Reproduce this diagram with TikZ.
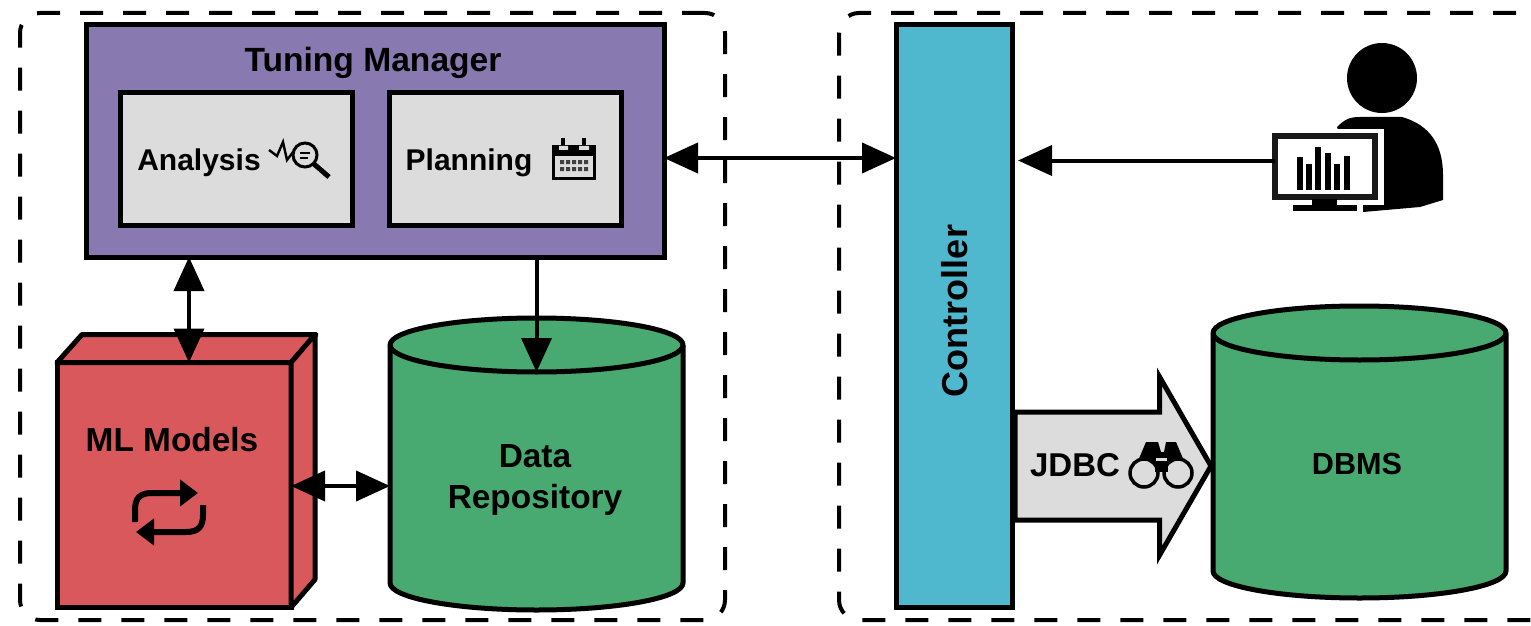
\documentclass[tikz,border=0pt]{standalone}
\usepackage{fontspec}
\setmainfont{Liberation Sans}
\usetikzlibrary{arrows.meta,shapes.arrows,calc}

\definecolor{mgrpurple}{HTML}{8879B0}
\definecolor{panelgrey}{HTML}{DCDCDC}
\definecolor{mlred}{HTML}{D9585B}
\definecolor{dbgreen}{HTML}{48AA70}
\definecolor{ctrlblue}{HTML}{4FB8CE}

\tikzset{
	box/.style={draw,line width=2.5pt,outer sep=0pt,inner sep=0pt},
	group/.style={draw,line width=2pt,dash pattern=on 11.5pt off 10pt,rounded corners=10pt,outer sep=0pt,inner sep=0pt},
	db/.style={minimum width=146.5pt,minimum height=146pt,outer sep=0pt,inner sep=0pt},
	dbline/.style={line width=2.5pt,fill=dbgreen,line join=round},
	lbl/.style={font=\fontsize{#1}{#1}\selectfont\bfseries,inner sep=0pt,align=center},
	tip/.style={-{Triangle[length=17pt,width=15pt]},line width=2pt},
	bitip/.style={{Triangle[length=17pt,width=15pt]}-{Triangle[length=17pt,width=15pt]},line width=2pt},
	looptip/.style={-{Triangle[length=9pt,width=13pt]},line width=3pt},
}

\newcommand{\dbdrum}[1]{
	\draw[dbline] ([yshift=-13.5pt]#1.north west) arc[start angle=180,end angle=0,x radius=73.25pt,y radius=13.5pt]
		-- ([yshift=13.5pt]#1.south east) arc[start angle=0,end angle=-180,x radius=73.25pt,y radius=13.5pt] -- cycle;
	\draw[line width=2.5pt] ([yshift=-13.5pt]#1.north west) arc[start angle=180,end angle=360,x radius=73.25pt,y radius=13.5pt];
}

\begin{document}
\begin{tikzpicture}[x=0.5pt,y=-0.5pt]
	\useasboundingbox (0,0) rectangle (1531,626);
	% dashed groups
	\node[group,minimum width=352.5pt,minimum height=303.5pt] (left) at (372.5,316.5) {};
	\node[group,minimum width=370pt,minimum height=303.5pt,anchor=west] (right) at (839,316.5) {};

	% tuning manager
	\node[box,fill=mgrpurple,minimum width=289pt,minimum height=116pt] (mgr) at (375,141) {};
	\node[lbl=16.8] (mgrtxt) at (373,63) {Tuning Manager};
	\node[box,fill=panelgrey,minimum width=116pt,minimum height=66pt] (ana) at (236,159) {};
	\node[box,fill=panelgrey,minimum width=116pt,minimum height=66pt] (plan) at (505.5,159) {};
	\node[lbl=15] (anatxt) at (199,163) {Analysis};
	\node[lbl=15] (plantxt) at (469,163) {Planning};

	% magnifier
	\draw[line width=1.5pt] (305,155) circle (12);
	\draw[line width=2.5pt] (314,164) -- (329,177);
	\draw[line width=1.2pt] (269,150) -- (277,156) -- (283,142) -- (287,160) -- (293,152);
	\draw[line width=1pt] (300,153) -- (310,153) (300,158) -- (308,158);

	% calendar
	\draw[line width=1.5pt,fill=panelgrey] (553,147) rectangle (594,178);
	\fill (553,147) rectangle (594,156);
	\draw[line width=2pt] (563,138) -- (563,148) (584,138) -- (584,148);
	\fill[panelgrey] (559,146) rectangle (568,150) (579,146) rectangle (589,150);
	\foreach \gridx in {560,566,572,578,584}
		\fill[black!75] (\gridx,160) rectangle ++(4,4) (\gridx,167) rectangle ++(4,4);

	% ml models
	\node[box,fill=mlred,minimum width=117pt,minimum height=122.5pt] (ml) at (174,485) {};
	\draw[line width=2.5pt,line join=round,fill=mlred] (ml.north west) -- ++(25,-28) -- ++(234,0) -- (ml.north east) -- cycle;
	\draw[line width=2.5pt,line join=round,fill=mlred] (ml.north east) -- ++(24,-28) -- ++(0,245) -- (ml.south east) -- cycle;
	\node[lbl=16.7] (mltxt) at (172,440) {ML Models};
	\draw[looptip] (135,522) -- (135,510) .. controls (135,498) and (140,493) .. (152,493) -- (198,493);
	\draw[looptip] (203,505) -- (203,515) .. controls (203,527) and (198,532) .. (186,532) -- (136,532);

	% data repository
	\node[db] (repo) at (536.5,464) {};
	\dbdrum{repo}
	\node[lbl=16.7] (repotxt) at (535,480) {Data\\[4pt]Repository};

	% controller
	\node[box,fill=ctrlblue,minimum width=58pt,minimum height=291pt] (ctrl) at (954,316) {};
	\node[lbl=18,rotate=90] (ctrltxt) at (955,311) {Controller};

	% dbms
	\node[db] (dbms) at (1359.5,452) {};
	\dbdrum{dbms}
	\node[lbl=15.3] (dbmstxt) at (1357,464) {DBMS};

	% jdbc arrow
	\node[single arrow,draw,line width=2.5pt,fill=panelgrey,outer sep=0pt,inner xsep=0pt,inner ysep=25.75pt,
		minimum height=98pt,single arrow head extend=17.5pt,single arrow tip angle=120,anchor=tip] (jdbc) at (1211,466) {};
	\node[lbl=16.5] (jdbctxt) at (1075,465) {JDBC};
	\fill (1135,468) -- (1146,442) -- (1158,442) -- (1161,452) -- (1164,452) -- (1166,442) -- (1176,442) -- (1187,468) -- cycle;
	\draw[line width=1.75pt,fill=panelgrey] (1144,473) circle (14) (1178,473) circle (14);
	\fill (1155,462) rectangle (1168,472);
	\fill[panelgrey] (1156,458) rectangle (1167,461);

	% person
	\fill (1382,78) circle (35);
	\fill (1337,127) .. controls (1345,119) and (1350,117) .. (1360,117) -- (1402,117)
		.. controls (1430,125) and (1443,145) .. (1443,175) -- (1443,200) -- (1420,207) -- (1363,212) -- (1363,200) -- cycle;
	\node[draw=white,line width=4pt,minimum width=54pt,minimum height=34pt,inner sep=0pt] (halo) at (1326,167) {};
	\node[box,draw=black!90,line width=3pt,fill=white,minimum width=50pt,minimum height=30.5pt] (mon) at (1325,166.5) {};
	\fill (1312,199) rectangle (1337,205);
	\fill (1293,205) rectangle (1357,211);
	\foreach \barx/\bartop in {1297/157,1306/164,1315/147,1325/153,1334/164,1344/156}
		\fill (\barx,\bartop) rectangle (\barx+6,190);

	% connectors
	\coordinate (mgrport) at ([yshift=-8.5pt]mgr.east);
	\coordinate (monport) at ([yshift=3pt]mon.west);
	\coordinate (mlport) at ([xshift=7.5pt]ml.north);
	\coordinate (repotop) at ([yshift=-27pt]repo.north);
	\coordinate (repoport) at (repo.west |- 0,486);
	\draw[bitip] (mgrport) -- (ctrl.west |- mgrport);
	\draw[tip] (monport) -- ([xshift=3pt]ctrl.east |- monport);
	\draw[bitip] (mgr.south -| mlport) -- (mlport);
	\draw[tip] (mgr.south -| repotop) -- (repotop);
	\draw[bitip] (ml.east |- repoport) -- (repoport);
\end{tikzpicture}
\end{document}
